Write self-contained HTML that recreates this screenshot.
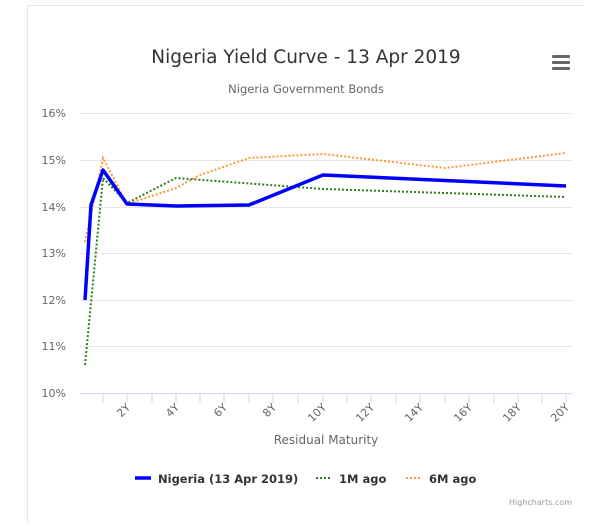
<!DOCTYPE html>
<html><head><meta charset="utf-8"><style>
body{margin:0;background:#fff;font-family:"DejaVu Sans","Liberation Sans",sans-serif}
</style></head><body>
<svg width="616" height="522" xmlns="http://www.w3.org/2000/svg" font-family="DejaVu Sans, Liberation Sans, sans-serif">
<rect width="616" height="522" fill="#fff"/>
<line x1="27.5" y1="5" x2="27.5" y2="522" stroke="#e6e6e6"/>
<line x1="27" y1="5.5" x2="584" y2="5.5" stroke="#e6e6e6"/>
<text x="306" y="63" text-anchor="middle" font-size="18.5" fill="#333">Nigeria Yield Curve - 13 Apr 2019</text>
<text x="306" y="93" text-anchor="middle" font-size="11.5" fill="#666">Nigeria Government Bonds</text>
<g fill="#666"><rect x="552" y="55" width="18" height="3" rx="1"/><rect x="552" y="61" width="18" height="3" rx="1"/><rect x="552" y="67" width="18" height="3" rx="1"/></g>
<g stroke="#e6e6e6">
<line x1="80" x2="572" y1="113.5" y2="113.5"/><line x1="80" x2="572" y1="160.5" y2="160.5"/><line x1="80" x2="572" y1="207.5" y2="207.5"/><line x1="80" x2="572" y1="253.5" y2="253.5"/><line x1="80" x2="572" y1="300.5" y2="300.5"/><line x1="80" x2="572" y1="346.5" y2="346.5"/>
</g>
<line x1="80" x2="572" y1="393.5" y2="393.5" stroke="#ccd6eb"/>
<g stroke="#ccd6eb">
<line x1="103" x2="103" y1="393" y2="403"/><line x1="127" x2="127" y1="393" y2="403"/><line x1="152" x2="152" y1="393" y2="403"/><line x1="176" x2="176" y1="393" y2="403"/><line x1="200" x2="200" y1="393" y2="403"/><line x1="224" x2="224" y1="393" y2="403"/><line x1="249" x2="249" y1="393" y2="403"/><line x1="273" x2="273" y1="393" y2="403"/><line x1="298" x2="298" y1="393" y2="403"/><line x1="323" x2="323" y1="393" y2="403"/><line x1="347" x2="347" y1="393" y2="403"/><line x1="371" x2="371" y1="393" y2="403"/><line x1="396" x2="396" y1="393" y2="403"/><line x1="420" x2="420" y1="393" y2="403"/><line x1="445" x2="445" y1="393" y2="403"/><line x1="469" x2="469" y1="393" y2="403"/><line x1="494" x2="494" y1="393" y2="403"/><line x1="518" x2="518" y1="393" y2="403"/><line x1="542" x2="542" y1="393" y2="403"/><line x1="566" x2="566" y1="393" y2="403"/>
</g>
<g font-size="11" fill="#666" text-anchor="end">
<text x="66" y="117">16%</text><text x="66" y="164">15%</text><text x="66" y="211">14%</text><text x="66" y="257">13%</text><text x="66" y="304">12%</text><text x="66" y="350">11%</text><text x="66" y="397">10%</text>
</g>
<g font-size="11" fill="#666" text-anchor="end">
<text transform="translate(131,408) rotate(-45)">2Y</text>
<text transform="translate(180,408) rotate(-45)">4Y</text>
<text transform="translate(228,408) rotate(-45)">6Y</text>
<text transform="translate(277,408) rotate(-45)">8Y</text>
<text transform="translate(327,408) rotate(-45)">10Y</text>
<text transform="translate(375,408) rotate(-45)">12Y</text>
<text transform="translate(424,408) rotate(-45)">14Y</text>
<text transform="translate(473,408) rotate(-45)">16Y</text>
<text transform="translate(522,408) rotate(-45)">18Y</text>
<text transform="translate(570,408) rotate(-45)">20Y</text>
</g>
<text x="326" y="444" text-anchor="middle" font-size="12" fill="#666">Residual Maturity</text>
<polyline fill="none" stroke="#ff9933" stroke-width="2" stroke-dasharray="2,2" points="85,242 103,158 127,204 176,188 200,175 249,158 323,154 445,168 566,153"/>
<polyline fill="none" stroke="#2e7d1e" stroke-width="2" stroke-dasharray="2,2" points="85,365 103,178 127,203 176,178 323,189 566,197"/>
<polyline fill="none" stroke="#0000ff" stroke-width="3.5" stroke-linejoin="round" points="85,300 91,205 103,170 127,204 176,206 249,205 323,175 566,186"/>
<line x1="135" x2="151" y1="478" y2="478" stroke="#0000ff" stroke-width="3.5"/>
<text x="158" y="483" font-size="11.5" font-weight="bold" fill="#333">Nigeria (13 Apr 2019)</text>
<line x1="316" x2="332" y1="478" y2="478" stroke="#2e7d1e" stroke-width="2" stroke-dasharray="2,2"/>
<text x="339" y="483" font-size="11.5" font-weight="bold" fill="#333">1M ago</text>
<line x1="406" x2="422" y1="478" y2="478" stroke="#ff9933" stroke-width="2" stroke-dasharray="2,2"/>
<text x="429" y="483" font-size="11.5" font-weight="bold" fill="#333">6M ago</text>
<text x="572" y="505" text-anchor="end" font-size="8" fill="#999">Highcharts.com</text>
</svg>
</body></html>
